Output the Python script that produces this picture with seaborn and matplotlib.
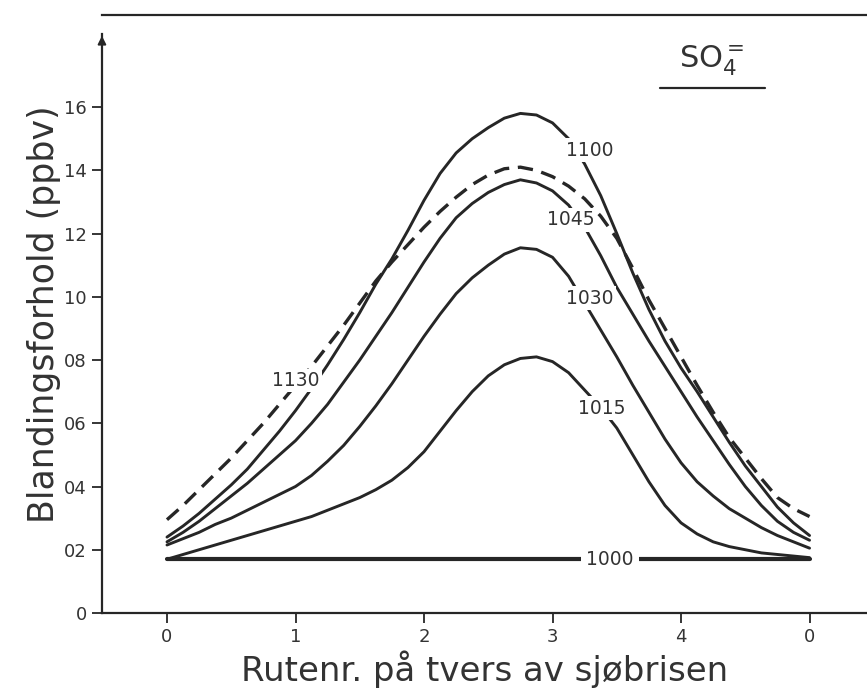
import matplotlib
matplotlib.use("Agg")
import matplotlib.pyplot as plt
import seaborn as sns
import pandas as pd
from matplotlib.lines import Line2D

# ---------------- data ----------------
x_grid = [0.0, 0.125, 0.25, 0.375, 0.5, 0.625, 0.75, 0.875, 1.0, 1.125,
          1.25, 1.375, 1.5, 1.625, 1.75, 1.875, 2.0, 2.125, 2.25, 2.375,
          2.5, 2.625, 2.75, 2.875, 3.0, 3.125, 3.25, 3.375, 3.5, 3.625,
          3.75, 3.875, 4.0, 4.125, 4.25, 4.375, 4.5, 4.625, 4.75, 4.875, 5.0]

y_1130 = [0.295, 0.34, 0.39, 0.44, 0.49, 0.545, 0.60, 0.66, 0.72, 0.78,
          0.845, 0.91, 0.98, 1.05, 1.11, 1.165, 1.22, 1.27, 1.315, 1.355,
          1.385, 1.405, 1.41, 1.40, 1.38, 1.35, 1.31, 1.255, 1.185, 1.09,
          0.99, 0.90, 0.81, 0.72, 0.635, 0.555, 0.49, 0.425, 0.365, 0.33, 0.305]
y_1100 = [0.24, 0.275, 0.315, 0.36, 0.405, 0.455, 0.515, 0.575, 0.64, 0.71,
          0.785, 0.865, 0.95, 1.04, 1.12, 1.21, 1.305, 1.39, 1.455, 1.50,
          1.535, 1.565, 1.58, 1.575, 1.55, 1.50, 1.42, 1.32, 1.20, 1.075,
          0.96, 0.86, 0.775, 0.70, 0.62, 0.54, 0.465, 0.40, 0.335, 0.285, 0.245]
y_1045 = [0.225, 0.255, 0.29, 0.33, 0.37, 0.41, 0.455, 0.50, 0.545, 0.60,
          0.66, 0.73, 0.80, 0.875, 0.95, 1.03, 1.11, 1.185, 1.25, 1.295,
          1.33, 1.355, 1.37, 1.36, 1.335, 1.29, 1.22, 1.13, 1.03, 0.945,
          0.86, 0.78, 0.70, 0.62, 0.545, 0.47, 0.40, 0.34, 0.29, 0.255, 0.23]
y_1030 = [0.215, 0.235, 0.255, 0.28, 0.30, 0.325, 0.35, 0.375, 0.40, 0.435,
          0.48, 0.53, 0.59, 0.655, 0.725, 0.80, 0.875, 0.945, 1.01, 1.06,
          1.10, 1.135, 1.155, 1.15, 1.125, 1.065, 0.98, 0.895, 0.81, 0.72,
          0.635, 0.55, 0.475, 0.415, 0.37, 0.33, 0.30, 0.27, 0.245, 0.225, 0.205]
y_1015 = [0.17, 0.185, 0.20, 0.215, 0.23, 0.245, 0.26, 0.275, 0.29, 0.305,
          0.325, 0.345, 0.365, 0.39, 0.42, 0.46, 0.51, 0.575, 0.64, 0.70,
          0.75, 0.785, 0.805, 0.81, 0.795, 0.76, 0.705, 0.65, 0.585, 0.50,
          0.415, 0.34, 0.285, 0.25, 0.225, 0.21, 0.20, 0.19, 0.185, 0.18, 0.175]
x_1000 = [0.0, 5.0]
y_1000 = [0.17, 0.17]

curve_names = ["1130", "1100", "1045", "1030", "1015", "1000"]
curve_x = [x_grid, x_grid, x_grid, x_grid, x_grid, x_1000]
curve_values = [y_1130, y_1100, y_1045, y_1030, y_1015, y_1000]

x_tick_pos = [0, 1, 2, 3, 4, 5]
x_tick_labels = ["0", "1", "2", "3", "4", "0"]
y_tick_pos = [0, 0.2, 0.4, 0.6, 0.8, 1.0, 1.2, 1.4, 1.6]
y_tick_labels = ["0", "02", "04", "06", "08", "10", "12", "14", "16"]

title_text = r"SO$_4^{=}$"
x_label = "Rutenr. på tvers av sjøbrisen"
y_label = "Blandingsforhold (ppbv)"

# ---------------- build long table ----------------
rows = []
for name, xs, vals in zip(curve_names, curve_x, curve_values):
    for xv, yv in zip(xs, vals):
        rows.append({"x": xv, "y": yv, "curve": name})
df = pd.DataFrame(rows)

# ---------------- style ----------------
sns.set_theme(style="ticks")
plt.rcParams["font.family"] = ["DejaVu Sans"]
ink = "#262626"
txt = "#333333"

fig = plt.figure(figsize=(8.67, 6.92), dpi=100)
ax = fig.add_axes([0.1176, 0.1142, 0.8824, 0.864])

line_w = {"1130": 2.4, "1100": 2.1, "1045": 2.1, "1030": 2.1, "1015": 2.1, "1000": 3.0}
for name in curve_names:
    sub = df[df["curve"] == name]
    sns.lineplot(data=sub, x="x", y="y", ax=ax, color=ink, lw=line_w[name],
                 estimator=None, sort=False, legend=False, zorder=2)
    ln = ax.lines[-1]
    ln.set_solid_joinstyle("round")
    if name == "1130":
        ln.set_dashes((4.6, 2.6))

# contour-style labels with white boxes (break the lines)
label_pos = {"1130": (1.004, 0.735), "1100": (3.29, 1.464), "1045": (3.14, 1.243),
             "1030": (3.29, 0.996), "1015": (3.386, 0.648), "1000": (3.447, 0.17)}
for name in curve_names:
    lx, ly = label_pos[name]
    pad = 0.3 if name == "1000" else 0.12
    ax.text(lx, ly, name, ha="center", va="center", fontsize=13.5, color=txt,
            zorder=4, bbox=dict(boxstyle=f"square,pad={pad}", fc="white", ec="none"))

ax.set_xlim(-0.506, 5.447)
ax.set_ylim(0, 1.891)
ax.set_xticks(x_tick_pos)
ax.set_xticklabels(x_tick_labels)
ax.set_yticks(y_tick_pos)
ax.set_yticklabels(y_tick_labels)
ax.tick_params(axis="both", direction="out", length=7, width=1.3, color=ink,
               labelsize=13, labelcolor=txt, pad=4)

ax.set_xlabel(x_label, fontsize=24.5, color=txt, labelpad=3)
ax.set_ylabel(y_label, fontsize=25, color=txt, labelpad=2)

for side in ["left", "bottom", "top"]:
    ax.spines[side].set_color(ink)
    ax.spines[side].set_linewidth(1.6)
ax.spines["right"].set_visible(False)
ax.spines["left"].set_bounds(0, 1.83)

# arrow at the top of the y axis
ax.annotate("", xy=(0, 0.97), xytext=(0, 0.925), xycoords="axes fraction",
            arrowprops=dict(arrowstyle="-|>", color=ink, lw=1.4, mutation_scale=12))

# species title with underline
ax.text(0.797, 0.923, title_text, transform=ax.transAxes, ha="center", va="center",
        fontsize=22, color=txt)
ax.add_line(Line2D([0.729, 0.867], [0.878, 0.878], transform=ax.transAxes,
                   color=ink, lw=1.6))

fig.savefig("out.png", dpi=100, facecolor="white")
